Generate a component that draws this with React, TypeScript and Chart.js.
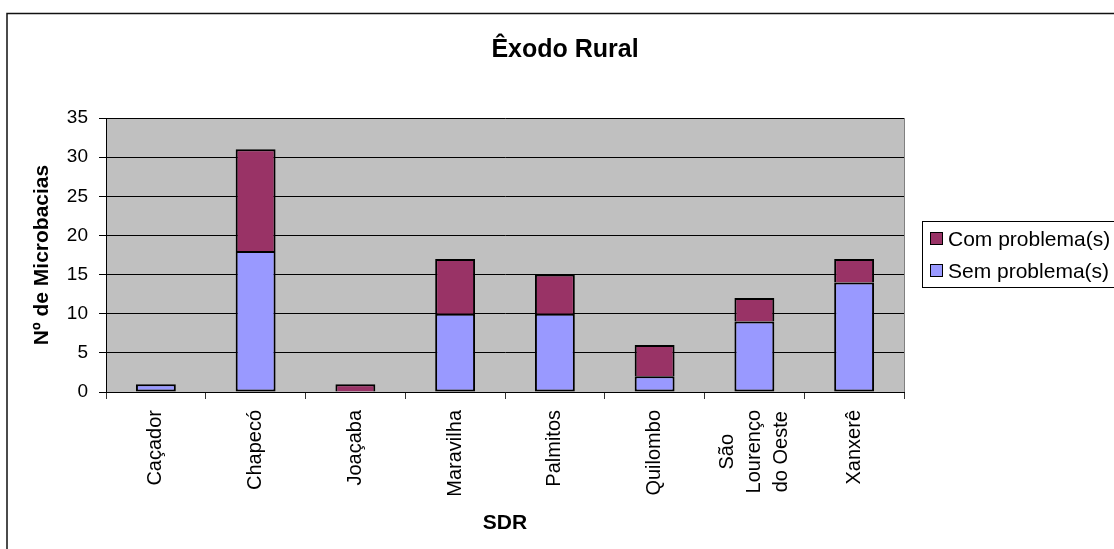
import React, { useEffect, useRef } from "react";
import { Chart, registerables } from "chart.js";

Chart.register(...registerables);

// ---- data ----
const categories: string[][] = [
  ["Caçador"],
  ["Chapecó"],
  ["Joaçaba"],
  ["Maravilha"],
  ["Palmitos"],
  ["Quilombo"],
  ["São", "Lourenço", "do Oeste"],
  ["Xanxerê"],
];
const semProblema: number[] = [1, 18, 0, 10, 10, 2, 9, 14];
const comProblema: number[] = [0, 13, 1, 7, 5, 4, 3, 3];
const seriesNames: string[] = ["Com problema(s)", "Sem problema(s)"];
const yMin = 0;
const yMax = 35;
const yStep = 5;
const chartTitle = "Êxodo Rural";
const xTitle = "SDR";
const yTitle = "Nº de Microbacias";

// ---- styles ----
const FONT = "'Liberation Sans', Arial, Helvetica, sans-serif";
const COLOR_SEM = "#9999FF";
const COLOR_COM = "#993366";
const PLOT_BG = "#C0C0C0";
const W = 1114;
const H = 549;

const decorPlugin = {
  id: "decor",
  beforeDraw(chart: any) {
    const { ctx, chartArea: a } = chart;
    ctx.save();
    ctx.fillStyle = "#ffffff";
    ctx.fillRect(0, 0, chart.width, chart.height);
    ctx.fillStyle = PLOT_BG;
    ctx.fillRect(a.left, a.top, a.right - a.left, a.bottom - a.top);
    // outer chart frame (left and top visible)
    ctx.strokeStyle = "#111";
    ctx.lineWidth = 1.5;
    ctx.beginPath();
    ctx.moveTo(7, chart.height + 2);
    ctx.lineTo(7, 13.5);
    ctx.lineTo(chart.width + 2, 13.5);
    ctx.stroke();
    ctx.restore();
  },
  afterDraw(chart: any) {
    const { ctx, chartArea: a } = chart;
    ctx.save();
    // plot right border
    ctx.strokeStyle = "#808080";
    ctx.lineWidth = 1;
    ctx.beginPath();
    ctx.moveTo(Math.round(a.right) + 0.5, a.top);
    ctx.lineTo(Math.round(a.right) + 0.5, a.bottom);
    ctx.stroke();

    // title
    ctx.fillStyle = "#000";
    ctx.font = `bold 25px ${FONT}`;
    ctx.textAlign = "center";
    ctx.textBaseline = "alphabetic";
    ctx.fillText(chartTitle, 565, 57);

    // x category labels (rotated, multi-line centered)
    const xs = chart.scales.x;
    ctx.font = `20px ${FONT}`;
    ctx.textAlign = "center";
    ctx.textBaseline = "middle";
    const lineH = 27;
    const labelTop = a.bottom + 18;
    categories.forEach((lines, i) => {
      const px = xs.getPixelForValue(i);
      const maxW = Math.max(...lines.map((l) => ctx.measureText(l).width));
      const cy = labelTop + maxW / 2;
      lines.forEach((l, j) => {
        const lx = px + (j - (lines.length - 1) / 2) * lineH;
        ctx.save();
        ctx.translate(lx, cy);
        ctx.rotate(-Math.PI / 2);
        ctx.fillText(l, 0, 0);
        ctx.restore();
      });
    });

    // legend
    const lx = 922.5;
    const ly = 221.5;
    ctx.fillStyle = "#fff";
    ctx.fillRect(lx, ly, 220, 66);
    ctx.strokeStyle = "#000";
    ctx.lineWidth = 1;
    ctx.strokeRect(lx, ly, 220, 66);
    const items = [
      { name: seriesNames[0], color: COLOR_COM, y: 239 },
      { name: seriesNames[1], color: COLOR_SEM, y: 271 },
    ];
    ctx.font = `21px ${FONT}`;
    ctx.textAlign = "left";
    ctx.textBaseline = "middle";
    items.forEach((it) => {
      ctx.fillStyle = it.color;
      ctx.fillRect(930.5, it.y - 6.5, 12, 12);
      ctx.strokeStyle = "#000";
      ctx.strokeRect(930.5, it.y - 6.5, 12, 12);
      ctx.fillStyle = "#000";
      ctx.fillText(it.name, 948, it.y + 1);
    });
    ctx.restore();
  },
};

export default function App() {
  const canvasRef = useRef<HTMLCanvasElement | null>(null);

  useEffect(() => {
    const canvas = canvasRef.current;
    if (!canvas) return;
    const chart = new Chart(canvas, {
      type: "bar",
      data: {
        labels: categories.map((c) => c.join(" ")),
        datasets: [
          {
            label: seriesNames[1],
            data: semProblema.map((v) => (v === 0 ? null : v)),
            backgroundColor: COLOR_SEM,
            borderColor: "#000",
            borderWidth: 2,
            borderSkipped: false,
            categoryPercentage: 1,
            barPercentage: 0.4,
          },
          {
            label: seriesNames[0],
            data: comProblema.map((v) => (v === 0 ? null : v)),
            backgroundColor: COLOR_COM,
            borderColor: "#000",
            borderWidth: 2,
            borderSkipped: "start",
            categoryPercentage: 1,
            barPercentage: 0.4,
          },
        ],
      },
      options: {
        animation: false,
        responsive: false,
        devicePixelRatio: 1,
        layout: { padding: { left: 0, top: 118, right: 210, bottom: 0 } },
        plugins: {
          legend: { display: false },
          title: { display: false },
          tooltip: { enabled: false },
        },
        scales: {
          x: {
            stacked: true,
            offset: true,
            grid: {
              display: true,
              drawOnChartArea: false,
              drawTicks: true,
              tickLength: 7,
              color: "#333",
              offset: true,
            },
            border: { display: true, color: "#000", width: 1 },
            ticks: { display: false },
            title: {
              display: true,
              text: xTitle,
              color: "#000",
              font: { family: FONT, size: 21, weight: "bold" },
              padding: { top: 0, bottom: 13 },
            },
            afterFit: (s: any) => {
              s.height = 157;
            },
          } as any,
          y: {
            stacked: true,
            min: yMin,
            max: yMax,
            ticks: {
              stepSize: yStep,
              color: "#000",
              font: { family: FONT, size: 19 },
              padding: 11,
            },
            grid: { color: "#000", tickLength: 7, drawTicks: true },
            border: { display: true, color: "#000", width: 1 },
            title: {
              display: true,
              text: yTitle,
              color: "#000",
              font: { family: FONT, size: 21, weight: "bold" },
              padding: { top: 30, bottom: 0 },
            },
            afterFit: (s: any) => {
              s.width = 106;
            },
          } as any,
        },
      },
      plugins: [decorPlugin],
    });
    return () => chart.destroy();
  }, []);

  return (
    <div style={{ position: "fixed", left: 0, top: 0, width: W, height: H, background: "#fff" }}>
      <canvas ref={canvasRef} width={W} height={H} style={{ display: "block", width: W, height: H }} />
    </div>
  );
}
